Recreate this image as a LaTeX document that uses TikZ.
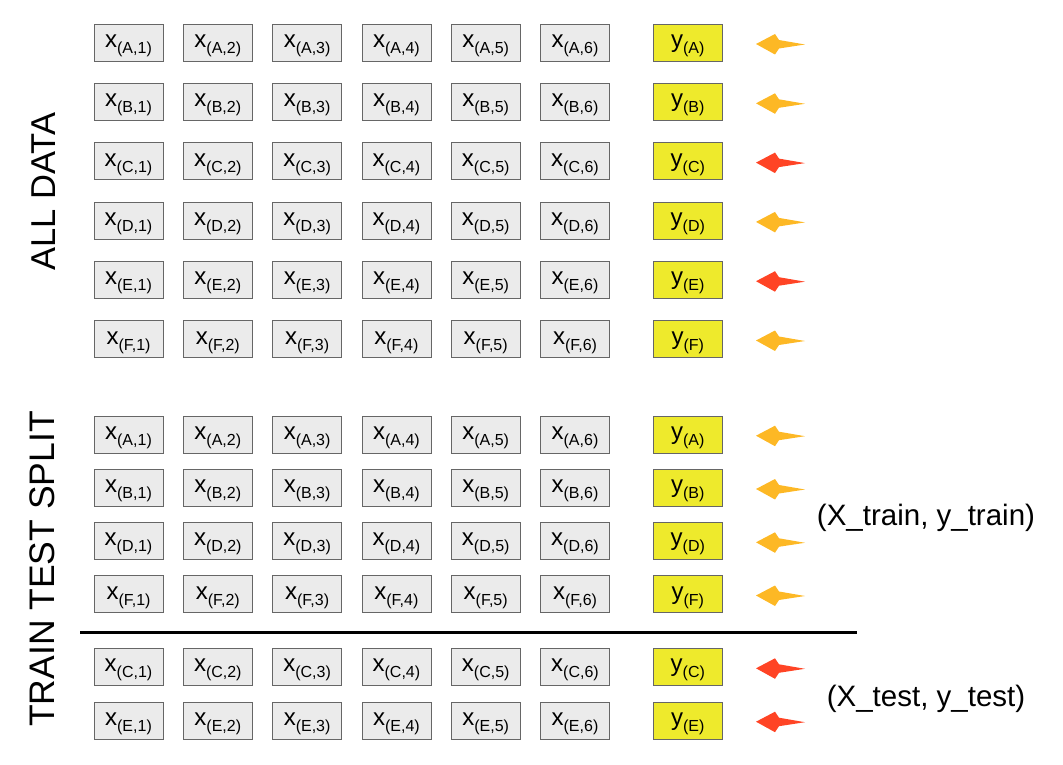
\documentclass[tikz,border=0pt]{standalone}
\usepackage{fontspec}
\setmainfont{Liberation Sans}
\definecolor{cellgray}{HTML}{EBEBEB}
\definecolor{cellyellow}{HTML}{EEEA2C}
\definecolor{trainorange}{HTML}{FDB825}
\definecolor{testred}{HTML}{FF4425}
\newcommand{\xlab}[2]{{\fontsize{24}{24}\selectfont x}\raisebox{-6pt}{\fontsize{16}{16}\selectfont(#1,#2)}}
\newcommand{\ylab}[1]{{\fontsize{24}{24}\selectfont y}\raisebox{-6pt}{\fontsize{16}{16}\selectfont(#1)}}
\tikzset{
  xcell/.style={draw=black!60, fill=cellgray, minimum width=69pt, minimum height=37pt,
    inner sep=0pt, text height=15pt, text depth=5pt},
  ycell/.style={xcell, fill=cellyellow},
  sidelabel/.style={rotate=90, inner sep=0pt, font=\fontsize{34.5}{34.5}\selectfont},
  setlabel/.style={inner sep=0pt, font=\fontsize{29.5}{29.5}\selectfont},
  pics/rowarrow/.style={code={
    \fill[#1] (-25,0) -- (-6,-10) -- (-2,-4) -- (24,0.5) -- (-2,4.5) -- (-6,10.5) -- cycle;
  }}
}
\begin{document}
\begin{tikzpicture}[x=1pt, y=-1pt]
  \useasboundingbox (0,0) rectangle (1063,765);
  % \draw[help lines, step=50] (0,0) grid (1063,765);

  \node[sidelabel] (alldata) at (43.5, 191.7) {ALL DATA};
  \node[sidelabel, font=\fontsize{35.5}{35.5}\selectfont] (split) at (42.5, 569) {TRAIN TEST SPLIT};

  % all data, one row per sample
  \foreach \r/\y/\c in {A/42.5/trainorange, B/101.8/trainorange, C/161.1/testred,
                        D/220.4/trainorange, E/279.7/testred, F/339/trainorange}{
    \foreach \k/\x in {1/128.5, 2/217.8, 3/307.1, 4/396.4, 5/485.7, 6/575}
      \node[xcell] (all-\r-\k) at (\x, \y) {\xlab{\r}{\k}};
    \node[ycell] (all-y-\r) at (687.8, \y) {\ylab{\r}};
    \pic (all-arrow-\r) at (781, \y+1.5) {rowarrow=\c};
  }

  % train rows above the rule, test rows below
  \foreach \r/\y/\c in {A/434.2/trainorange, B/487.5/trainorange, D/540.8/trainorange,
                        F/594/trainorange, C/666.8/testred, E/720.2/testred}{
    \foreach \k/\x in {1/128.5, 2/217.8, 3/307.1, 4/396.4, 5/485.7, 6/575}
      \node[xcell] (split-\r-\k) at (\x, \y) {\xlab{\r}{\k}};
    \node[ycell] (split-y-\r) at (687.8, \y) {\ylab{\r}};
    \pic (split-arrow-\r) at (781, \y+1.5) {rowarrow=\c};
  }

  \draw[line width=3pt] (80, 632) -- (857, 632); % train / test rule

  \node[setlabel] (trainset) at (926, 518) {(X\_train, y\_train)};
  \node[setlabel] (testset) at (926, 699) {(X\_test, y\_test)};
\end{tikzpicture}
\end{document}
